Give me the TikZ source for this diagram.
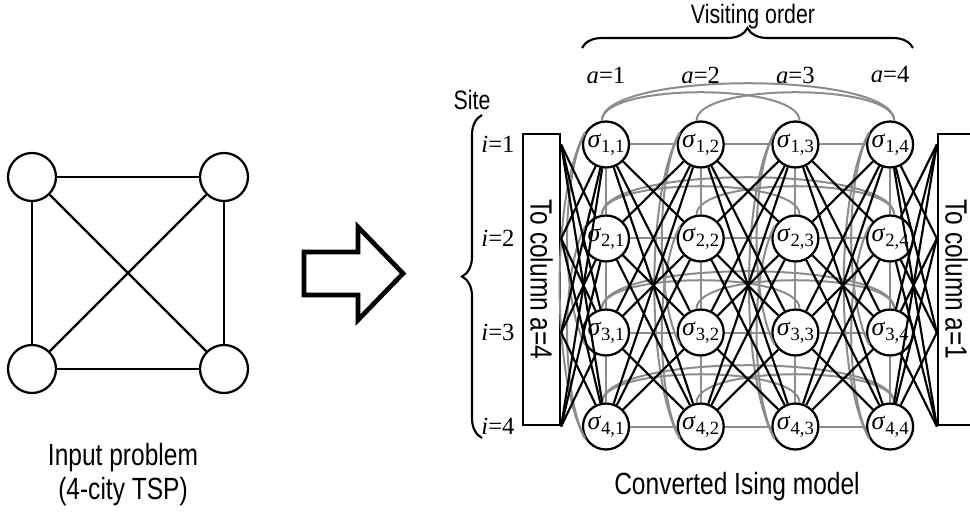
\documentclass[tikz,border=0pt]{standalone}
\usepackage{fontspec}
\setmainfont{Liberation Serif}
\setsansfont[FakeStretch=0.8]{Liberation Sans}
\usepackage{tikz}
\usetikzlibrary{decorations.pathreplacing}
\definecolor{linkGray}{HTML}{8C8C8C}
\newcommand{\spinlabel}[2]{\textit{σ}\raisebox{-0.4ex}{\fontsize{14}{14}\selectfont #1,#2}}

\begin{document}
\begin{tikzpicture}[
  x=0.75pt, y=-0.75pt,
  city/.style={circle,draw,line width=1.7pt,minimum size=36pt,inner sep=0pt},
  spin/.style={circle,draw,line width=1.7pt,minimum size=34.5pt,inner sep=0pt,font=\fontsize{19.5}{19.5}\selectfont},
  caption/.style={font=\sffamily\fontsize{23}{25.5}\selectfont,align=center},
  smallcaption/.style={font=\sffamily\fontsize{20}{20}\selectfont},
  idx/.style={font=\fontsize{18.5}{18.5}\selectfont},
  coltag/.style={draw,line width=1.7pt,rotate=-90,minimum width=218pt,minimum height=27.75pt,inner sep=0pt,font=\sffamily\fontsize{23}{23}\selectfont},
  road/.style={line width=1.6pt},
  coupling/.style={line width=1.6pt,black},
  penalty/.style={line width=1.5pt,color=linkGray},
  bracket/.style={line width=1.6pt,decorate,decoration={brace,amplitude=15pt}}
]
\useasboundingbox (0,0) rectangle (970,513);

% input problem
\node[city] (c1) at (32,177) {};
\node[city] (c2) at (224,177) {};
\node[city] (c3) at (32,369) {};
\node[city] (c4) at (224,369) {};
\draw[road] (c1) -- (c2);
\draw[road] (c3) -- (c4);
\draw[road] (c1) -- (c3);
\draw[road] (c2) -- (c4);
\draw[road] (c1) -- (c4);
\draw[road] (c2) -- (c3);
\node[caption] (inp) at (123,475) {Input problem\\(4-city TSP)};

% conversion arrow
\draw[line width=3.5pt,line join=miter] (304,252) -- (358,252) -- (358,227) -- (403,273.5)
  -- (358,320) -- (358,295) -- (304,295) -- cycle;

% ising model
\node[smallcaption] (order) at (753,17) {Visiting order};
\coordinate (ordL) at (582,48);
\coordinate (ordR) at (913,48);
\draw[bracket] (ordL) -- (ordR);
\node[smallcaption] (site) at (472,100) {Site};
\coordinate (siteB) at (482,438);
\coordinate (siteT) at (482,115);
\draw[bracket] (siteB) -- (siteT);

\foreach \a in {1,...,4}
  \node[idx] (col\a) at ({606+94.7*(\a-1)},75) {\textit{a}=\a};
\foreach \i in {1,...,4} {
  \node[idx] (row\i) at (498,{144.5+94*(\i-1)}) {\textit{i}=\i};
  \foreach \a in {1,...,4}
    \node[spin] (s\i\a) at ({606+94.7*(\a-1)},{144.5+94*(\i-1)}) {\spinlabel{\i}{\a}};
}
\node[coltag] (tagL) at (541.5,279.5) {To column a=4};
\node[coltag] (tagR) at (956.5,279.5) {To column a=1};

% same site or same order: gray
\foreach \i in {1,...,4} {
  \foreach \a/\b in {1/2,2/3,3/4}
    \draw[penalty] (s\i\a) -- (s\i\b);
  \draw[penalty] (s\i1.100) .. controls +(0,-50) and +(0,-50) .. (s\i4.80);
  \draw[penalty] (s\i1.100) .. controls +(0,-38) and +(0,-38) .. (s\i3.80);
  \draw[penalty] (s\i2.100) .. controls +(0,-38) and +(0,-38) .. (s\i4.80);
}
\foreach \a in {1,...,4} {
  \foreach \i/\j in {1/2,2/3,3/4}
    \draw[penalty] (s\i\a) -- (s\j\a);
  \draw[penalty] (s1\a.150) .. controls +(-34,60) and +(-34,-60) .. (s4\a.210);
  \draw[penalty] (s1\a.150) .. controls +(-24,45) and +(-24,-45) .. (s3\a.210);
  \draw[penalty] (s2\a.150) .. controls +(-24,45) and +(-24,-45) .. (s4\a.210);
}

% next order, other site: black
\foreach \a/\b in {1/2,2/3,3/4}
  \foreach \i in {1,...,4}
    \foreach \j in {1,...,4} {
      \ifnum\i=\j\else\draw[coupling] (s\i\a) -- (s\j\b);\fi
    }
\foreach \i in {1,...,4}
  \foreach \j in {1,...,4} {
    \ifnum\i=\j\else\draw[coupling] (s\i1) -- (tagL.north |- s\j1);\fi
    \ifnum\i=\j\else\draw[coupling] (s\i4) -- (tagR.south |- s\j4);\fi
  }
\node[caption] (ising) at (737,487) {Converted Ising model};
\end{tikzpicture}
\end{document}
